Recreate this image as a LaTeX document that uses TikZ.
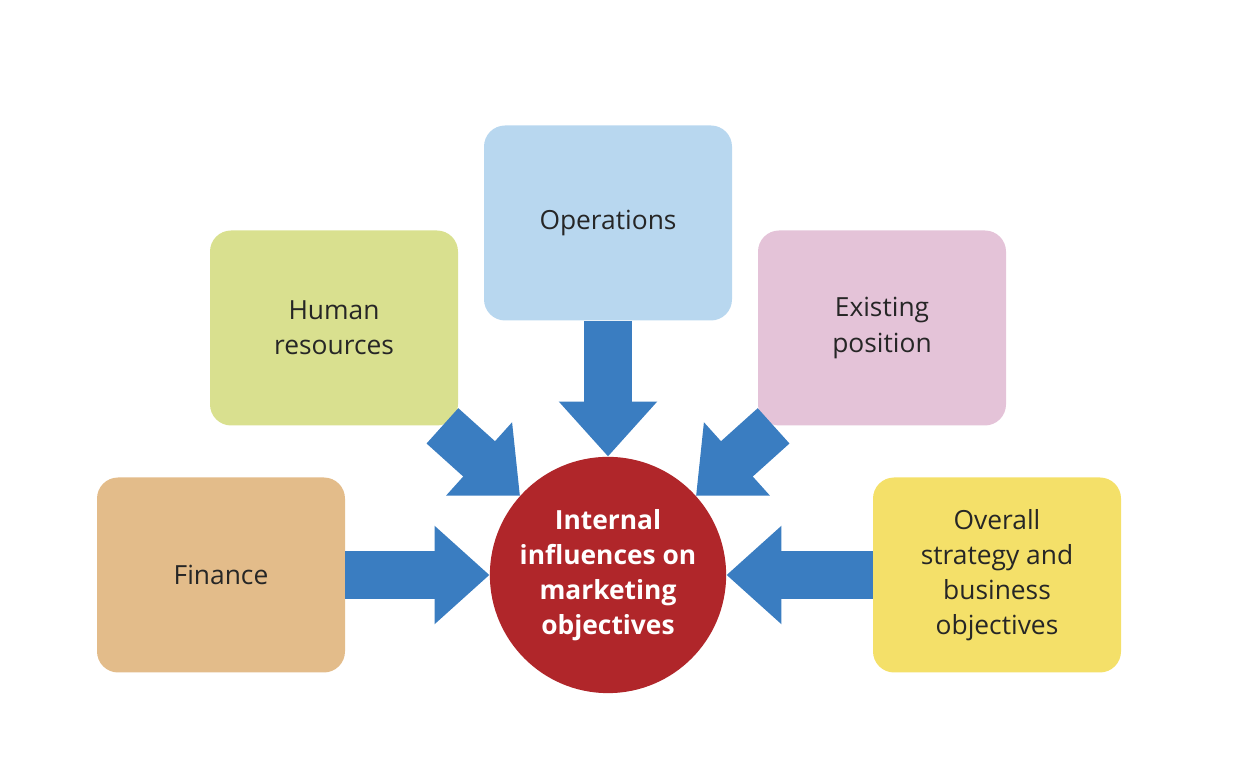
\documentclass[tikz,border=0pt]{standalone}
\usepackage{fontspec}
\setmainfont{Open Sans}
\usetikzlibrary{arrows.meta,positioning}
\definecolor{finc}{HTML}{E3BC8A}
\definecolor{hrc}{HTML}{D9E08F}
\definecolor{opc}{HTML}{B8D7EF}
\definecolor{exc}{HTML}{E4C3D8}
\definecolor{ovc}{HTML}{F4E069}
\definecolor{circc}{HTML}{B0262A}
\definecolor{arrc}{HTML}{3A7DC1}
\tikzset{
  factor/.style={rounded corners=12pt, minimum width=4.96cm, minimum height=3.9cm,
    align=center, font=\fontsize{15}{20}\selectfont, text=black!85},
  bigarrow/.style={arrc, line width=0.95cm, -{Triangle[width=1.9cm,length=1.1cm]}}
}
\begin{document}
\begin{tikzpicture}
  \useasboundingbox (0,0) rectangle (24.88,15.28);
  % centre
  \node[circle, fill=circc, minimum size=4.6cm, align=center, text=white,
    font=\bfseries\fontsize{15}{20}\selectfont] (circ) at (12.16,3.78)
    {Internal\\influences on\\marketing\\objectives};
  % influences
  \node[factor, fill=finc] (fin) at (4.42,3.78) {Finance};
  \node[factor, fill=hrc] (hr) at (6.68,8.72) {Human\\resources};
  \node[factor, fill=opc] (ops) at (12.16,10.82) {Operations};
  \node[factor, fill=exc] (ex) at (17.64,8.72) {Existing\\position};
  \node[factor, fill=ovc] (ov) at (19.94,3.78) {Overall\\strategy and\\business\\objectives};
  % arrows
  \draw[bigarrow] (fin) -- (circ);
  \draw[bigarrow] (hr) -- (circ);
  \draw[bigarrow] (ops) -- (circ);
  \draw[bigarrow] (ex) -- (circ);
  \draw[bigarrow] (ov) -- (circ);
\end{tikzpicture}
\end{document}
